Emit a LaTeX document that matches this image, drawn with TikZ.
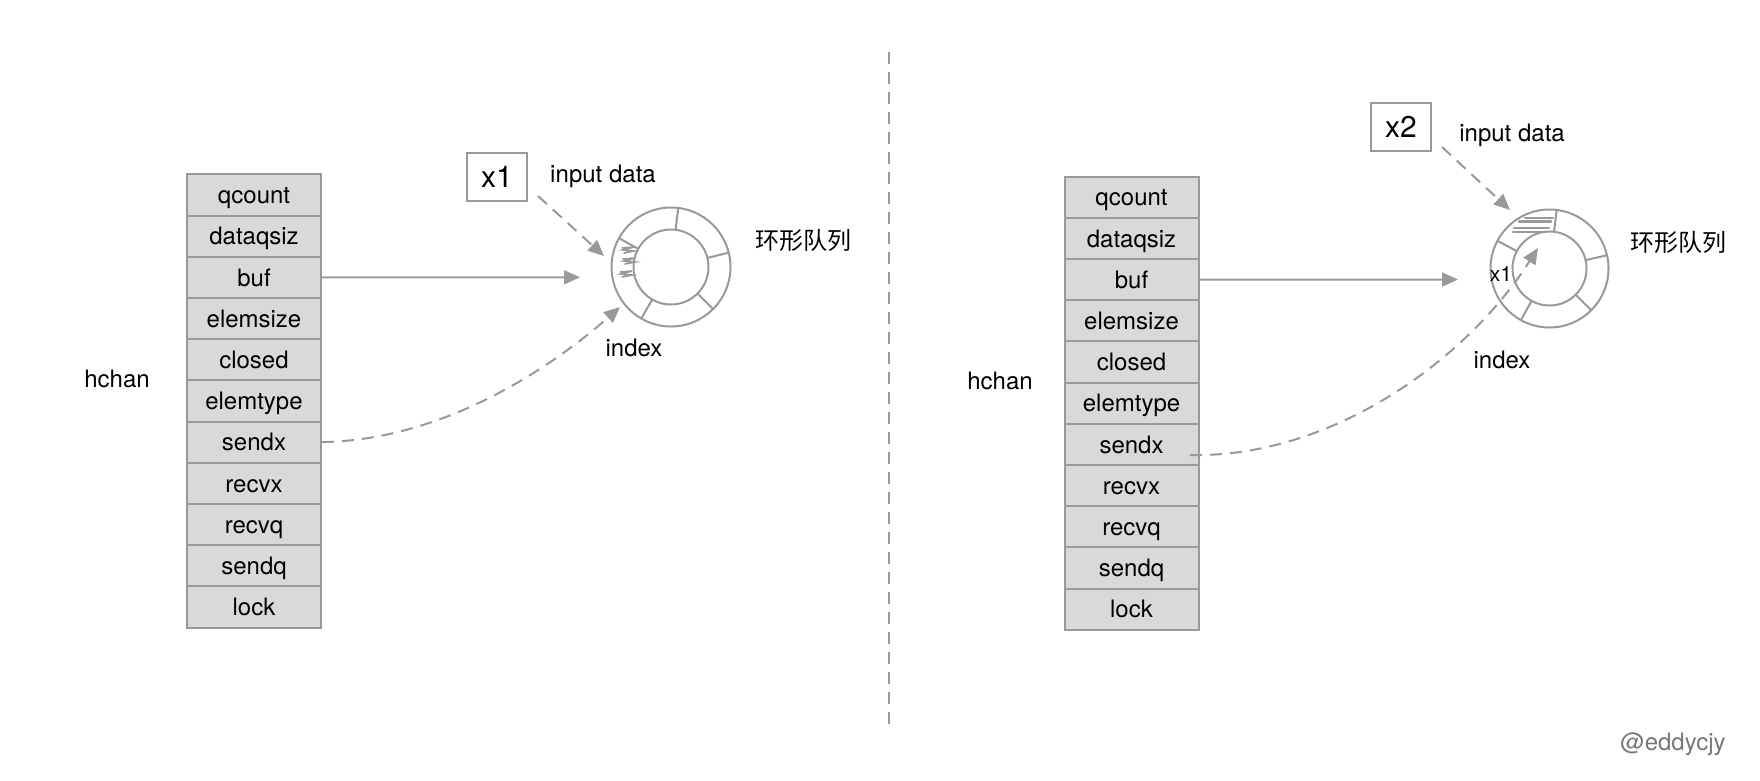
\documentclass[tikz,border=0pt]{standalone}
\usepackage{fontspec}
\setmainfont{TeX Gyre Heros}
\newfontfamily\cjk{Noto Sans CJK SC}
\usetikzlibrary{arrows.meta}

\definecolor{linegray}{RGB}{153,153,153}
\definecolor{fieldgray}{RGB}{217,217,217}
\definecolor{markgray}{RGB}{119,119,119}

\begin{document}
\begin{tikzpicture}[x = 1pt,
                    y = -1pt,
                    font = \fontsize{24}{28}\selectfont,
                    field/.style = {draw = linegray, fill = fieldgray, line width = 2pt,
                                    minimum width = 134pt, minimum height = 41.2pt,
                                    inner sep = 0pt, text height = 21pt, text depth = 3.5pt},
                    databox/.style = {draw = linegray, line width = 2pt, minimum width = 60pt,
                                      minimum height = 48pt, inner sep = 0pt,
                                      font = \fontsize{30}{34}\selectfont},
                    ring/.style = {circle, draw = linegray, line width = 2pt,
                                   inner sep = 0pt, outer sep = 0pt},
                    label/.style = {inner sep = 0pt},
                    arrow/.style = {draw = linegray, line width = 2pt,
                                    -{Triangle[length = 16pt, width = 14pt]}},
                    dasharrow/.style = {arrow, dash pattern = on 12pt off 8pt},
                    hatch/.style = {draw = linegray, line width = 2.2pt, line cap = round}]

    \useasboundingbox (0,0) rectangle (1760,780);

    % left: first send
    \foreach \name [count = \k] in {qcount, dataqsiz, buf, elemsize, closed, elemtype,
                                    sendx, recvx, recvq, sendq, lock}
    {
        \node[field] (L\name) at (254, {153.7 + 41.2*\k}) {\name};
    }
    \node[label] (Lhchan) at (117,379) {hchan};

    \node[ring, minimum size = 119pt] (Lout) at (671,267) {};
    \node[ring, minimum size = 75pt] (Lin) at (671,267) {};
    \foreach \a in {83, 14, -45, -120, 151}
    {
        \draw[draw = linegray, line width = 2pt] (Lin.\a) -- (Lout.\a);
    }
    \foreach \px/\py in {628/250, 629/261, 626/274}
    {
        \draw[hatch, line width = 1.6pt] (\px-6,\py-2) -- (\px+6,\py-3) -- (\px-5,\py)
                                         -- (\px+6,\py+1) -- (\px-4,\py+3);
    }

    \node[databox] (Lx) at (497,177) {x1};
    \node[label] (Linput) at (603,176) {input data};
    \node[label] (Lqueue) at (803,240) {\cjk 环形队列};
    \node[label] (Lindex) at (634,348) {index};

    \coordinate (Lxout) at (538,196);
    \coordinate (Lxin) at (604,256);
    \coordinate (Lbufin) at (580,277.3);
    \coordinate (Lidxin) at (620,307);

    \draw[dasharrow] (Lxout) -- (Lxin);
    \draw[arrow] (Lbuf.east) -- (Lbufin);
    \draw[dasharrow] (Lsendx.east) .. controls (450,440) and (560,360) .. (Lidxin);

    % separator
    \draw[draw = linegray, line width = 2pt, dash pattern = on 12pt off 8pt] (889,52) -- (889,728);

    % right: second send
    \foreach \name [count = \k] in {qcount, dataqsiz, buf, elemsize, closed, elemtype,
                                    sendx, recvx, recvq, sendq, lock}
    {
        \node[field] (R\name) at (1131.5, {155.9 + 41.2*\k}) {\name};
    }
    \node[label] (Rhchan) at (1000,381) {hchan};

    \node[ring, minimum size = 118pt] (Rout) at (1549.5,268.5) {};
    \node[ring, minimum size = 74pt] (Rin) at (1549.5,268.5) {};
    \foreach \a in {83, 13, -45, -119, 152}
    {
        \draw[draw = linegray, line width = 2pt] (Rin.\a) -- (Rout.\a);
    }
    \foreach \ya/\xa/\xb in {218/1525/1553, 221.5/1519/1551, 228/1514/1549, 232/1513/1546}
    {
        \draw[hatch] (\xa,\ya) -- (\xb,\ya);
    }

    \node[databox] (Rx) at (1401,127) {x2};
    \node[label] (Rinput) at (1512,135) {input data};
    \node[label] (Rqueue) at (1678,242) {\cjk 环形队列};
    \node[label] (Rindex) at (1502,360) {index};
    \node[label, font = \fontsize{21}{24}\selectfont] (Rold) at (1501,274) {x1};

    \coordinate (Rxout) at (1442,147);
    \coordinate (Rxin) at (1510,210);
    \coordinate (Rbufin) at (1458,279.5);
    \coordinate (Ridxout) at (1190,455);
    \coordinate (Ridxin) at (1538,248);

    \draw[dasharrow] (Rxout) -- (Rxin);
    \draw[arrow] (Rbuf.east) -- (Rbufin);
    \draw[dasharrow] (Ridxout) .. controls (1330,458) and (1465,362) .. (Ridxin);

    \node[label, text = markgray] (sign) at (1673,744) {@eddycjy};
\end{tikzpicture}
\end{document}
